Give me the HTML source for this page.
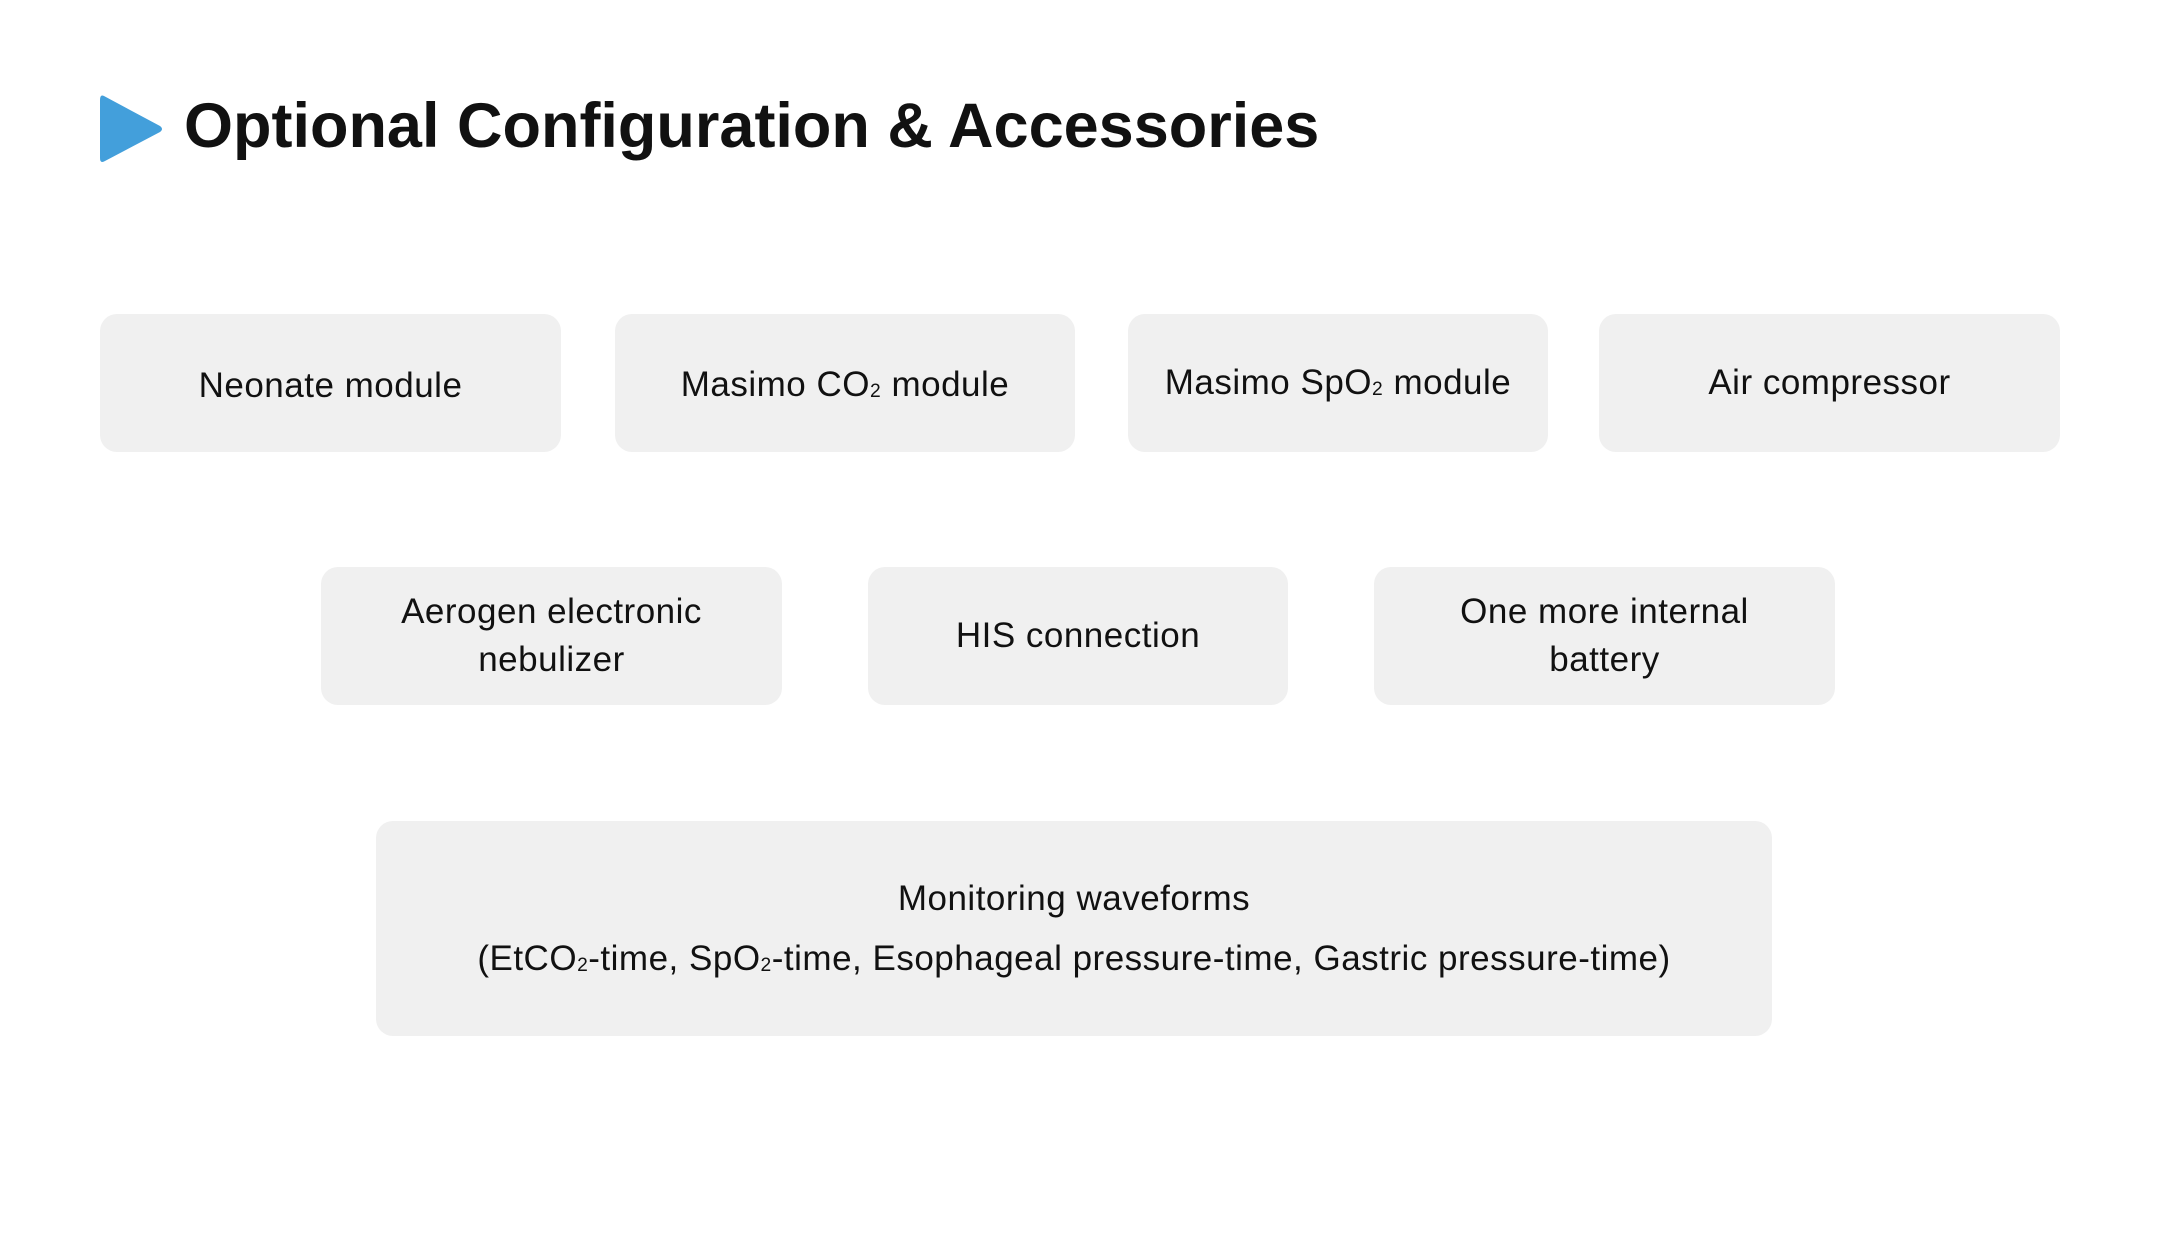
<!DOCTYPE html>
<html><head><meta charset="utf-8"><style>
html,body{margin:0;padding:0;background:#fff;width:2160px;height:1234px;overflow:hidden;font-family:"Liberation Sans","DejaVu Sans",sans-serif;color:#111}
.b{position:absolute;background:#f0f0f0;border-radius:17px;display:flex;align-items:center;justify-content:center;text-align:center;font-size:35px;line-height:48px;letter-spacing:0.5px}
.b span{display:block}
h1{position:absolute;left:184px;top:86px;margin:0;font-size:63px;font-weight:bold;line-height:80px;white-space:nowrap}
sub{font-size:0.55em;vertical-align:-0.05em;line-height:0}
</style></head><body>
<svg style="position:absolute;left:98px;top:92px" width="68" height="74"><path d="M6 4 Q2 2 2 8 L2 66 Q2 72 7 69 L62 40 Q66 37 62 34 Z" fill="#439fdb"/></svg>
<h1>Optional Configuration &amp; Accessories</h1>
<div class="b" style="left:100px;top:314px;width:461px;height:138px;padding-top:6px;box-sizing:border-box"><span>Neonate module</span></div>
<div class="b" style="left:615px;top:314px;width:460px;height:138px;padding-top:4px;box-sizing:border-box"><span>Masimo CO<sub>2</sub> module</span></div>
<div class="b" style="left:1128px;top:314px;width:420px;height:138px"><span>Masimo SpO<sub>2</sub> module</span></div>
<div class="b" style="left:1599px;top:314px;width:461px;height:138px"><span>Air compressor</span></div>
<div class="b" style="left:321px;top:567px;width:461px;height:138px"><span>Aerogen electronic<br>nebulizer</span></div>
<div class="b" style="left:868px;top:567px;width:420px;height:138px"><span>HIS connection</span></div>
<div class="b" style="left:1374px;top:567px;width:461px;height:138px"><span>One more internal<br>battery</span></div>
<div class="b" style="left:376px;top:821px;width:1396px;height:215px;line-height:60px"><span>Monitoring waveforms<br>(EtCO<sub>2</sub>-time, SpO<sub>2</sub>-time, Esophageal pressure-time, Gastric pressure-time)</span></div>
</body></html>
